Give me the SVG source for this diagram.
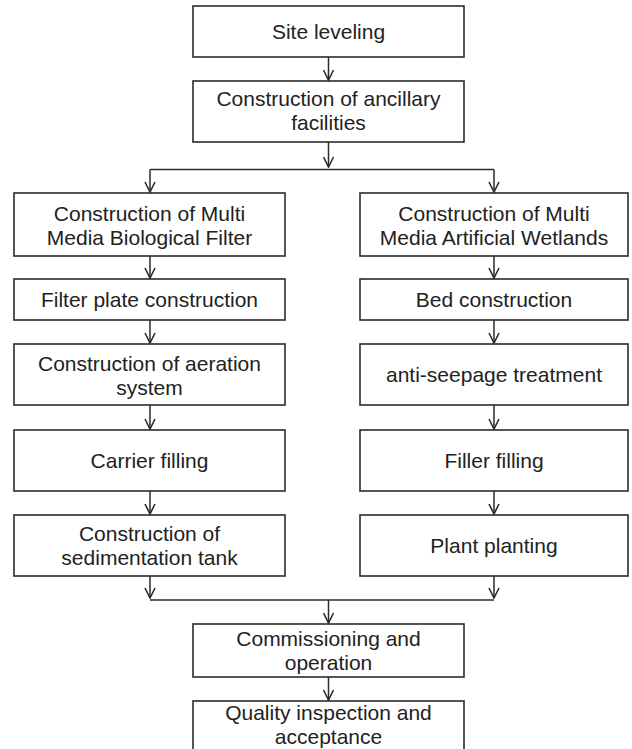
<svg xmlns="http://www.w3.org/2000/svg" width="632" height="749" viewBox="0 0 632 749">
<style>
.box{fill:#fff;stroke:#2b2b2b;stroke-width:1.6}
.t{font-family:"Liberation Sans",Arial,sans-serif;font-size:21px;fill:#222;text-anchor:middle}
.c{fill:none;stroke:#2b2b2b;stroke-width:1.5}
</style>
<defs>
<marker id="ah" viewBox="0 0 12 12" refX="11" refY="6" markerWidth="12" markerHeight="12" markerUnits="userSpaceOnUse" orient="auto">
<path d="M1,1 L11,6 L1,11" fill="none" stroke="#2b2b2b" stroke-width="1.6"/>
</marker>
</defs>
<rect width="632" height="749" fill="#fff"/>
<g id="connectors">
<path class="c" d="M328.5,57 V80" marker-end="url(#ah)"/>
<path class="c" d="M328.5,142 V167" marker-end="url(#ah)"/>
<path class="c" d="M150,169.5 H494"/>
<path class="c" d="M150,169.5 V192" marker-end="url(#ah)"/>
<path class="c" d="M494,169.5 V192" marker-end="url(#ah)"/>
<path class="c" d="M150,256 V278" marker-end="url(#ah)"/>
<path class="c" d="M494,256 V278" marker-end="url(#ah)"/>
<path class="c" d="M150,320 V343" marker-end="url(#ah)"/>
<path class="c" d="M494,320 V343" marker-end="url(#ah)"/>
<path class="c" d="M150,405 V429" marker-end="url(#ah)"/>
<path class="c" d="M494,405 V429" marker-end="url(#ah)"/>
<path class="c" d="M150,491 V514" marker-end="url(#ah)"/>
<path class="c" d="M494,491 V514" marker-end="url(#ah)"/>
<path class="c" d="M150,576 V598" marker-end="url(#ah)"/>
<path class="c" d="M494,576 V598" marker-end="url(#ah)"/>
<path class="c" d="M150,600 H494"/>
<path class="c" d="M328.5,600 V623" marker-end="url(#ah)"/>
<path class="c" d="M328.5,677 V700" marker-end="url(#ah)"/>
</g>
<g id="site-leveling"><rect class="box" x="193" y="6" width="271" height="51"/><text class="t" x="328.5" y="39">Site leveling</text></g>
<g id="ancillary"><rect class="box" x="193" y="81" width="271" height="61"/><text class="t" x="328.5" y="106">Construction of ancillary</text><text class="t" x="328.5" y="130">facilities</text></g>
<g id="mmbf"><rect class="box" x="14" y="193" width="271" height="63"/><text class="t" x="149.5" y="221">Construction of Multi</text><text class="t" x="149.5" y="245">Media Biological Filter</text></g>
<g id="mmaw"><rect class="box" x="360" y="193" width="268" height="63"/><text class="t" x="494" y="221">Construction of Multi</text><text class="t" x="494" y="245">Media Artificial Wetlands</text></g>
<g id="filter-plate"><rect class="box" x="14" y="279" width="271" height="41"/><text class="t" x="149.5" y="307">Filter plate construction</text></g>
<g id="bed"><rect class="box" x="360" y="279" width="268" height="41"/><text class="t" x="494" y="307">Bed construction</text></g>
<g id="aeration"><rect class="box" x="14" y="344" width="271" height="61"/><text class="t" x="149.5" y="371">Construction of aeration</text><text class="t" x="149.5" y="395">system</text></g>
<g id="anti-seepage"><rect class="box" x="360" y="344" width="268" height="61"/><text class="t" x="494" y="382">anti-seepage treatment</text></g>
<g id="carrier"><rect class="box" x="14" y="430" width="271" height="61"/><text class="t" x="149.5" y="468">Carrier filling</text></g>
<g id="filler"><rect class="box" x="360" y="430" width="268" height="61"/><text class="t" x="494" y="468">Filler filling</text></g>
<g id="sedimentation"><rect class="box" x="14" y="515" width="271" height="61"/><text class="t" x="149.5" y="541">Construction of</text><text class="t" x="149.5" y="565">sedimentation tank</text></g>
<g id="plant"><rect class="box" x="360" y="515" width="268" height="61"/><text class="t" x="494" y="553">Plant planting</text></g>
<g id="commissioning"><rect class="box" x="193" y="624" width="271" height="53"/><text class="t" x="328.5" y="646">Commissioning and</text><text class="t" x="328.5" y="670">operation</text></g>
<g id="quality"><rect class="box" x="193" y="701" width="271" height="60"/><text class="t" x="328.5" y="720">Quality inspection and</text><text class="t" x="328.5" y="744">acceptance</text></g>
</svg>
